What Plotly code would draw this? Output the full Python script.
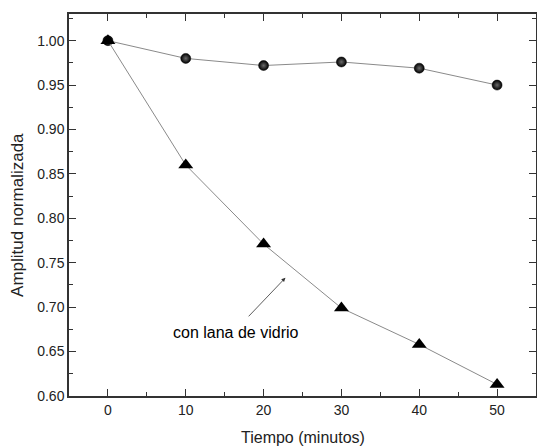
import plotly.graph_objects as go

tiempo = [0, 10, 20, 30, 40, 50]
sin_lana = [1.000, 0.980, 0.972, 0.976, 0.969, 0.950]
con_lana = [1.000, 0.860, 0.771, 0.699, 0.658, 0.613]

x_ticks = [0, 10, 20, 30, 40, 50]
y_ticks = [0.60, 0.65, 0.70, 0.75, 0.80, 0.85, 0.90, 0.95, 1.00]
y_labels = ["0.60", "0.65", "0.70", "0.75", "0.80", "0.85", "0.90", "0.95", "1.00"]

x_title = "Tiempo (minutos)"
y_title = "Amplitud normalizada"
annot_text = "con lana de vidrio"

FONT = "Liberation Sans, Arial, sans-serif"

fig = go.Figure()
fig.add_trace(go.Scatter(
    x=tiempo, y=sin_lana, mode="lines+markers",
    line=dict(color="#8a8a8a", width=1),
    marker=dict(symbol="circle", size=10, color="black",
                gradient=dict(type="radial", color="#6a6a6a"),
                line=dict(width=0.5, color="black")),
    showlegend=False,
))
fig.add_trace(go.Scatter(
    x=tiempo, y=con_lana, mode="lines+markers",
    line=dict(color="#8a8a8a", width=1),
    marker=dict(symbol="triangle-up", size=13, color="black"),
    showlegend=False,
))

fig.add_annotation(
    x=22.8, y=0.733, ax=17.9, ay=0.688, xref="x", yref="y", axref="x", ayref="y",
    showarrow=True, arrowhead=2, arrowsize=1, arrowwidth=0.8, arrowcolor="#333",
    text="",
)
fig.add_annotation(
    x=16.4, y=0.671, xref="x", yref="y", showarrow=False,
    text=annot_text, font=dict(size=16, color="black", family=FONT),
)
# axis titles
fig.add_annotation(
    x=0.5, y=0, xref="paper", yref="paper", xanchor="center", yanchor="middle",
    yshift=-41, showarrow=False, text=x_title,
    font=dict(size=16, color="#222", family=FONT),
)
fig.add_annotation(
    x=0, y=0.474, xref="paper", yref="paper", xanchor="center", yanchor="middle",
    xshift=-51, showarrow=False, text=y_title, textangle=-90,
    font=dict(size=17, color="#222", family=FONT),
)

axis_common = dict(
    showline=True, linecolor="#333", linewidth=1.5, mirror="allticks",
    ticks="inside", ticklen=7, tickwidth=1.2, tickcolor="#333",
    showgrid=False, zeroline=False, automargin=False,
    tickfont=dict(size=14, color="#222", family=FONT),
)

fig.update_xaxes(
    range=[-5, 55], tickvals=x_ticks,
    minor=dict(ticks="inside", ticklen=4, tickwidth=1, tickcolor="#333", dtick=5, tick0=0),
    **axis_common,
)
fig.update_yaxes(
    range=[0.60, 1.03], tickvals=y_ticks, ticktext=y_labels,
    minor=dict(ticks="inside", ticklen=4, tickwidth=1, tickcolor="#333", dtick=0.025, tick0=0.6),
    **axis_common,
)

fig.update_layout(
    width=537, height=448,
    margin=dict(l=69, r=1, t=14, b=52),
    paper_bgcolor="white", plot_bgcolor="white",
    font=dict(family=FONT, color="#222"),
)

fig.write_html("out.html", config={"displayModeBar": False},
               post_script="document.body.style.margin='0';")
